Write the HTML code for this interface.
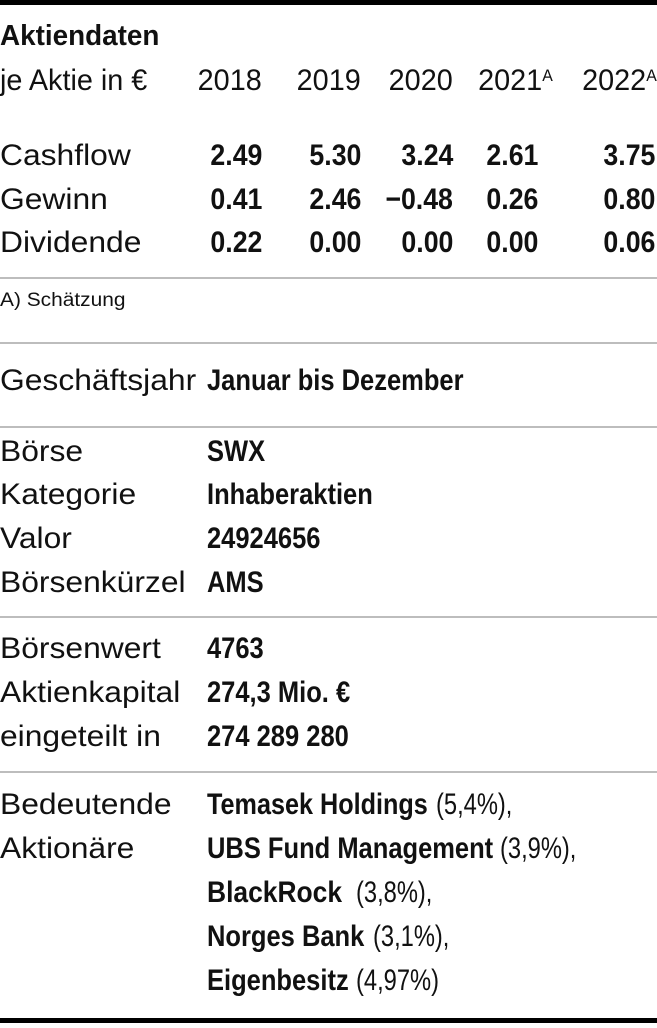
<!DOCTYPE html>
<html><head><meta charset="utf-8"><style>
body{margin:0;width:657px;height:1028px;background:#fff;position:relative;overflow:hidden;font-family:"Liberation Sans",sans-serif;color:#111}
.t{position:absolute;white-space:nowrap;line-height:1;font-size:30px;transform:scaleX(1.06);transform-origin:left top}
.y{transform:scaleX(.96)}
.p{transform:scaleX(.79)}
.b{font-weight:bold;transform:scaleX(.85)}
.n{font-weight:bold;transform:scaleX(.89)}
.r{transform-origin:right top;text-align:right}
.hr{position:absolute;left:0;width:657px;height:2px;background:#bdbdbd}
sup{font-size:55%;vertical-align:top;position:relative;top:2px}
</style></head><body>
<div style="position:absolute;left:0;top:0;width:657px;height:5px;background:#000"></div>
<div class="t" style="left:0;top:22px;font-weight:bold;font-size:29px;transform:scaleX(.96)">Aktiendaten</div>
<div class="t y" style="left:0;top:66px">je Aktie in €</div>
<div class="t r y" style="right:395px;top:66px">2018</div>
<div class="t r y" style="right:296px;top:66px">2019</div>
<div class="t r y" style="right:204px;top:66px">2020</div>
<div class="t r y" style="right:104px;top:66px">2021<sup>A</sup></div>
<div class="t r y" style="right:0;top:66px">2022<sup>A</sup></div>

<div class="t" style="left:0;top:141px">Cashflow</div>
<div class="t" style="left:0;top:185px">Gewinn</div>
<div class="t" style="left:0;top:228px">Dividende</div>

<div class="t r n" style="right:395px;top:141px">2.49</div>
<div class="t r n" style="right:296px;top:141px">5.30</div>
<div class="t r n" style="right:204px;top:141px">3.24</div>
<div class="t r n" style="right:119px;top:141px">2.61</div>
<div class="t r n" style="right:2px;top:141px">3.75</div>

<div class="t r n" style="right:395px;top:185px">0.41</div>
<div class="t r n" style="right:296px;top:185px">2.46</div>
<div class="t r n" style="right:204px;top:185px">−0.48</div>
<div class="t r n" style="right:119px;top:185px">0.26</div>
<div class="t r n" style="right:2px;top:185px">0.80</div>

<div class="t r n" style="right:395px;top:228px">0.22</div>
<div class="t r n" style="right:296px;top:228px">0.00</div>
<div class="t r n" style="right:204px;top:228px">0.00</div>
<div class="t r n" style="right:119px;top:228px">0.00</div>
<div class="t r n" style="right:2px;top:228px">0.06</div>

<div class="hr" style="top:277px"></div>
<div class="t" style="left:0;top:291px;font-size:19px;transform:scaleX(1.1)">A) Schätzung</div>
<div class="hr" style="top:342px"></div>
<div class="t" style="left:0;top:366px">Geschäftsjahr</div>
<div class="t b" style="left:207px;top:366px">Januar bis Dezember</div>
<div class="hr" style="top:426px"></div>
<div class="t" style="left:0;top:437px">Börse</div>
<div class="t b" style="left:207px;top:437px">SWX</div>
<div class="t" style="left:0;top:480px">Kategorie</div>
<div class="t b" style="left:207px;top:480px">Inhaberaktien</div>
<div class="t" style="left:0;top:524px">Valor</div>
<div class="t b" style="left:207px;top:524px">24924656</div>
<div class="t" style="left:0;top:568px">Börsenkürzel</div>
<div class="t b" style="left:207px;top:568px">AMS</div>
<div class="hr" style="top:616px"></div>
<div class="t" style="left:0;top:634px">Börsenwert</div>
<div class="t b" style="left:207px;top:634px">4763</div>
<div class="t" style="left:0;top:678px">Aktienkapital</div>
<div class="t b" style="left:207px;top:678px">274,3 Mio. €</div>
<div class="t" style="left:0;top:722px">eingeteilt in</div>
<div class="t b" style="left:207px;top:722px">274 289 280</div>
<div class="hr" style="top:771px"></div>
<div class="t" style="left:0;top:790px">Bedeutende</div>
<div class="t" style="left:0;top:834px">Aktionäre</div>
<div class="t b" style="left:207px;top:790px;transform:scaleX(.84)">Temasek Holdings</div>
<div class="t p" style="left:436px;top:790px">(5,4%),</div>
<div class="t b" style="left:207px;top:834px">UBS Fund Management</div>
<div class="t p" style="left:500px;top:834px">(3,9%),</div>
<div class="t b" style="left:207px;top:878px;transform:scaleX(.88)">BlackRock</div>
<div class="t p" style="left:356px;top:878px">(3,8%),</div>
<div class="t b" style="left:207px;top:922px">Norges Bank</div>
<div class="t p" style="left:373px;top:922px">(3,1%),</div>
<div class="t b" style="left:207px;top:966px">Eigenbesitz</div>
<div class="t p" style="left:356px;top:966px">(4,97%)</div>
<div style="position:absolute;left:0;top:1018px;width:657px;height:5px;background:#000"></div>
</body></html>
